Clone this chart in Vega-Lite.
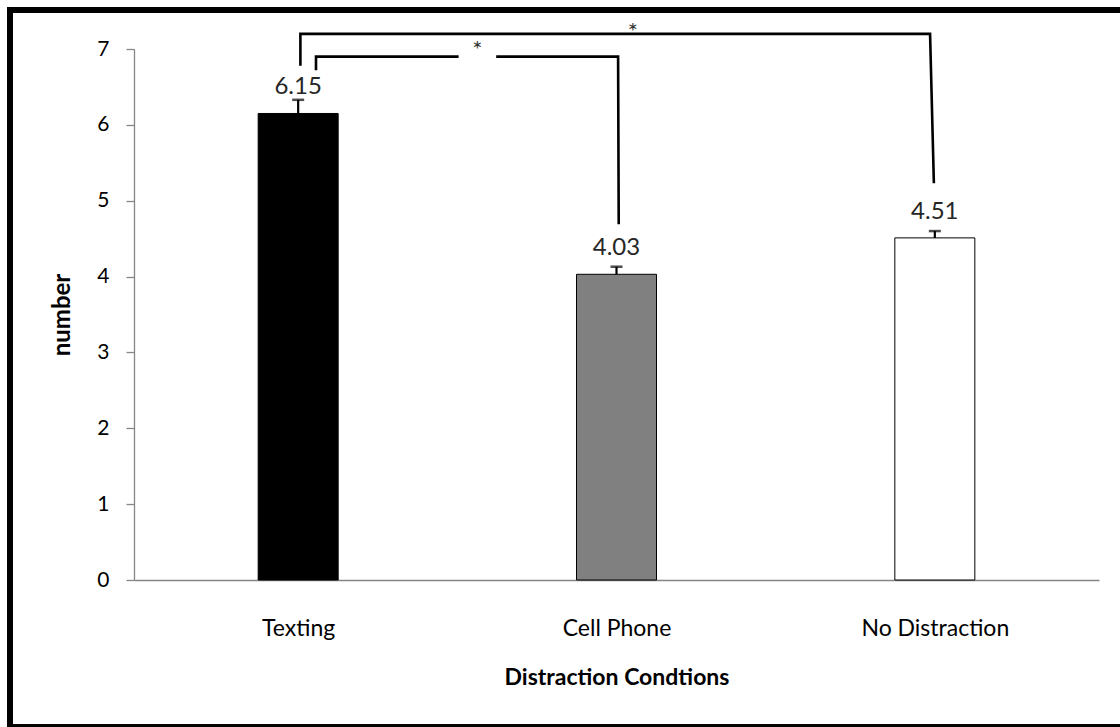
{
  "$schema": "https://vega.github.io/schema/vega-lite/v6.json",
  "autosize": {"type": "none"},
  "padding": {"left": 10, "top": 10, "right": 0, "bottom": 0},
  "width": 1160,
  "height": 717,
  "background": "white",
  "config": {
    "view": {"stroke": "black", "strokeWidth": 6},
    "font": "Lato",
    "axis": {"grid": false}
  },
  "datasets": {
    "bars": [
      {"cond": "Texting", "pos": 1, "mean": 6.15, "upper": 6.33, "label": "6.15"},
      {"cond": "Cell Phone", "pos": 2, "mean": 4.03, "upper": 4.13, "label": "4.03"},
      {"cond": "No Distraction", "pos": 3, "mean": 4.51, "upper": 4.60, "label": "4.51"}
    ],
    "brackets": [
      {"seg": "outer", "order": 1, "x": 1.007, "y": 6.78},
      {"seg": "outer", "order": 2, "x": 1.007, "y": 7.20},
      {"seg": "outer", "order": 3, "x": 2.985, "y": 7.20},
      {"seg": "outer", "order": 4, "x": 2.997, "y": 5.23},
      {"seg": "innerA", "order": 1, "x": 1.056, "y": 6.72},
      {"seg": "innerA", "order": 2, "x": 1.056, "y": 6.90},
      {"seg": "innerA", "order": 3, "x": 1.504, "y": 6.90},
      {"seg": "innerB", "order": 1, "x": 1.622, "y": 6.90},
      {"seg": "innerB", "order": 2, "x": 2.005, "y": 6.90},
      {"seg": "innerB", "order": 3, "x": 2.007, "y": 4.69}
    ],
    "stars": [
      {"x": 1.563, "y": 7.05, "t": "*"},
      {"x": 2.051, "y": 7.29, "t": "*"}
    ]
  },
  "layer": [
    {
      "data": {"name": "bars"},
      "mark": {"type": "bar", "orient": "vertical", "size": 80, "stroke": "#000000", "strokeWidth": 1},
      "encoding": {
        "x": {
          "field": "pos", "type": "quantitative",
          "scale": {"domain": [0.5, 3.5], "range": [124, 1089], "nice": false, "zero": false},
          "axis": {
            "offset": -147,
            "values": [1, 2, 3],
            "ticks": false,
            "tickSize": 0,
            "labelExpr": "datum.value == 1 ? 'Texting' : datum.value == 2 ? 'Cell Phone' : 'No Distraction'",
            "labelFontSize": 23,
            "labelColor": "#000000",
            "labelPadding": 37,
            "labelFlush": false,
            "labelOverlap": false,
            "domainColor": "#868686",
            "domainWidth": 1.3,
            "title": "Distraction Condtions",
            "titleFontSize": 23,
            "titleFontWeight": "bold",
            "titleColor": "#000000",
            "titlePadding": 26
          }
        },
        "y": {
          "field": "mean", "type": "quantitative",
          "scale": {"domain": [0, 7], "range": [570, 39], "nice": false, "zero": true},
          "axis": {
            "offset": -124,
            "values": [0, 1, 2, 3, 4, 5, 6, 7],
            "format": "d",
            "tickSize": 8,
            "tickColor": "#868686",
            "tickWidth": 1.3,
            "domainColor": "#868686",
            "domainWidth": 1.3,
            "labelFontSize": 21,
            "labelColor": "#000000",
            "labelPadding": 17,
            "title": "number",
            "titleFontSize": 24,
            "titleFontWeight": "bold",
            "titleColor": "#000000",
            "titlePadding": 22
          }
        },
        "fill": {
          "field": "cond", "type": "nominal",
          "scale": {"domain": ["Texting", "Cell Phone", "No Distraction"], "range": ["#000000", "#808080", "#ffffff"]},
          "legend": null
        }
      }
    },
    {
      "data": {"name": "bars"},
      "mark": {"type": "rule", "color": "#000000", "strokeWidth": 2.2},
      "encoding": {
        "x": {"field": "pos", "type": "quantitative"},
        "y": {"field": "mean", "type": "quantitative"},
        "y2": {"field": "upper"}
      }
    },
    {
      "data": {"name": "bars"},
      "mark": {"type": "tick", "orient": "horizontal", "color": "#000000", "size": 12, "thickness": 2.5},
      "encoding": {
        "x": {"field": "pos", "type": "quantitative"},
        "y": {"field": "upper", "type": "quantitative"}
      }
    },
    {
      "data": {"name": "bars"},
      "mark": {"type": "text", "fontSize": 24, "color": "#262626", "baseline": "alphabetic", "align": "center", "dy": -19},
      "encoding": {
        "x": {"field": "pos", "type": "quantitative"},
        "y": {"field": "mean", "type": "quantitative"},
        "text": {"field": "label"}
      }
    },
    {
      "data": {"name": "brackets"},
      "mark": {"type": "line", "color": "#000000", "strokeWidth": 2.6, "strokeCap": "butt", "strokeJoin": "miter"},
      "encoding": {
        "x": {"field": "x", "type": "quantitative"},
        "y": {"field": "y", "type": "quantitative"},
        "detail": {"field": "seg"},
        "order": {"field": "order"}
      }
    },
    {
      "data": {"name": "stars"},
      "mark": {"type": "text", "fontSize": 24, "color": "#333333", "baseline": "middle", "align": "center", "dy": 6},
      "encoding": {
        "x": {"field": "x", "type": "quantitative"},
        "y": {"field": "y", "type": "quantitative"},
        "text": {"field": "t"}
      }
    }
  ]
}
